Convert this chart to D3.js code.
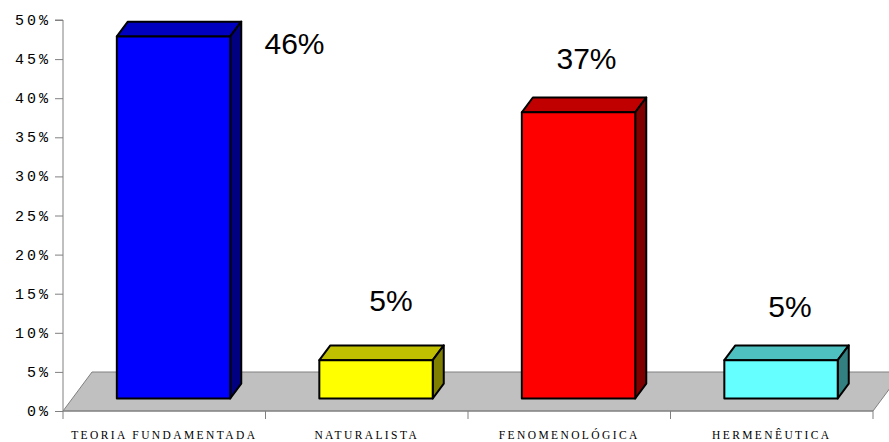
<!DOCTYPE html>
<html><head><meta charset="utf-8">
<script src="https://cdn.jsdelivr.net/npm/d3@7"></script>
<style>body{margin:0;background:#fff}svg{display:block}</style>
</head><body>
<svg id="c" width="889" height="442"></svg>
<script>
// ---- data ----
const categories = ["TEORIA FUNDAMENTADA", "NATURALISTA", "FENOMENOLÓGICA", "HERMENÊUTICA"];
const values = [46.3, 4.9, 36.6, 4.9];           // percent
const yTicks = [0, 5, 10, 15, 20, 25, 30, 35, 40, 45, 50];
const frontColors = ["#0000FF", "#FFFF00", "#FF0000", "#66FFFF"];
const topColors   = ["#0000C0", "#C0C000", "#C00000", "#4FC0C0"];
const sideColors  = ["#000080", "#808000", "#800000", "#338080"];
// label offsets (layout) relative to bar front-top centre
const labelOffsets = [[121, 18], [15, -49], [8, -43], [9, -43]];

// ---- layout ----
const svg = d3.select("#c");
const x0 = 63, x1 = 873, yBase = 411, yTop = 20;
const depth = [29, -39];           // floor depth vector
const fFront = 0.32, fBack = 0.70; // bar depth fractions

const x = d3.scaleBand().domain(categories).range([x0, x1]).paddingInner(0).paddingOuter(0);
const y = d3.scaleLinear().domain([0, 50]).range([yBase, yTop]);

// floor
const fl = [[x0, yBase], [x0 + depth[0], yBase + depth[1]], [x1 + depth[0], yBase + depth[1]], [x1, yBase]];
svg.append("polygon").attr("points", fl.map(p => p.join(",")).join(" "))
  .attr("fill", "#C0C0C0").attr("stroke", "#808080").attr("stroke-width", 1);

// y axis
const yAxis = d3.axisLeft(y).tickValues(yTicks).tickSize(8).tickPadding(5).tickFormat(d => d + "%");
const gy = svg.append("g").attr("transform", `translate(${x0},0)`).call(yAxis);
gy.select(".domain").attr("stroke", "#808080").attr("d", `M-8,${y(50)}H0V${yBase}`);
gy.selectAll(".tick line").attr("stroke", "#808080");
gy.selectAll(".tick text").attr("font-family", "'Liberation Mono', monospace").attr("font-size", 15)
  .attr("letter-spacing", "3px").attr("fill", "#000").attr("x", -12).attr("dy", "0.3em");

// x axis
const xAxis = d3.axisBottom(x).tickSize(0).tickPadding(22);
const gx = svg.append("g").attr("transform", `translate(0,${yBase})`).call(xAxis);
gx.select(".domain").attr("stroke", "#808080").attr("d", `M${x0},0H${x1}`);
gx.selectAll(".tick text").attr("font-family", "'Liberation Serif', 'Times New Roman', serif")
  .attr("font-size", 11.5).attr("letter-spacing", "2.4px").attr("fill", "#000").attr("dy", "0.55em");
// category boundary ticks
const bounds = categories.map(c => x(c)).concat([x1]);
gx.selectAll(".bt").data(bounds).enter().append("line")
  .attr("x1", d => d).attr("x2", d => d).attr("y1", 0).attr("y2", 8).attr("stroke", "#808080");

// bars
const bw = x.bandwidth() * 0.56;
const bars = svg.append("g");
values.forEach((v, i) => {
  const cx = x(categories[i]) + x.bandwidth() / 2;
  const fdx = depth[0] * fFront, fdy = depth[1] * fFront;
  const bdx = depth[0] * (fBack - fFront), bdy = depth[1] * (fBack - fFront);
  const L = cx - bw / 2 + fdx, R = cx + bw / 2 + fdx;
  const T = y(v) + fdy, B = y(0) + fdy;
  const g = bars.append("g").attr("stroke", "#000").attr("stroke-width", 2).attr("stroke-linejoin", "round");
  // top
  g.append("polygon").attr("points", [[L, T], [L + bdx, T + bdy], [R + bdx, T + bdy], [R, T]].map(p => p.join(",")).join(" "))
    .attr("fill", topColors[i]);
  // side
  g.append("polygon").attr("points", [[R, T], [R + bdx, T + bdy], [R + bdx, B + bdy], [R, B]].map(p => p.join(",")).join(" "))
    .attr("fill", sideColors[i]);
  // front
  g.append("rect").attr("x", L).attr("y", T).attr("width", R - L).attr("height", B - T).attr("fill", frontColors[i]);
  // label
  const fmt = d3.format(".0%");
  svg.append("text").attr("x", (L + R) / 2 + labelOffsets[i][0]).attr("y", T + labelOffsets[i][1])
    .attr("text-anchor", "middle").attr("font-family", "'Liberation Sans', Arial, sans-serif")
    .attr("font-size", 30).attr("fill", "#000").text(fmt(v / 100));
});
</script>
</body></html>
